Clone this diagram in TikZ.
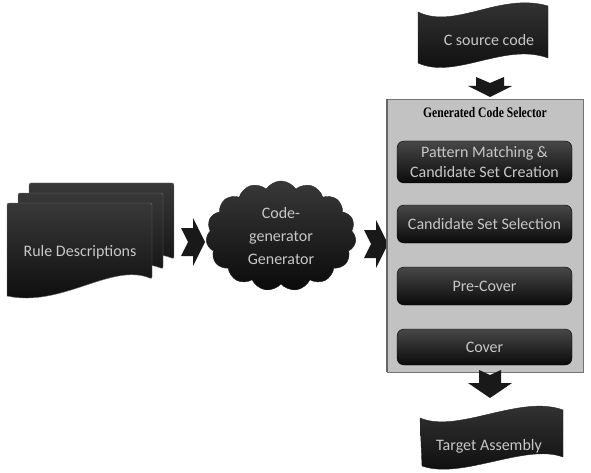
\documentclass[tikz,border=0pt]{standalone}
\usepackage{fontspec}
\setmainfont{Carlito}
\newfontfamily\titlefont[FakeStretch=0.8]{Liberation Serif}
\usetikzlibrary{shapes.symbols,calc}
\definecolor{darkfill}{gray}{0.1}
\definecolor{lighttext}{gray}{0.78}
\definecolor{panel}{gray}{0.76}
\tikzset{
  darkbox/.style={rounded corners=7pt, top color=black!72, bottom color=black!96,
    draw=black, text=lighttext, font=\fontsize{16}{20}\selectfont,
    minimum width=175pt, align=center, inner sep=2pt},
  darkshape/.style={top color=black!78, bottom color=black!96, draw=black!85},
  lbl/.style={text=lighttext, font=\fontsize{16}{23}\selectfont, align=center},
  arrowfill/.style={fill=darkfill},
  barrowR/.pic={\path[arrowfill] (-12,-14) -- (0,-14) -- (0,-24) -- (12,0) -- (0,24) -- (0,14) -- (-12,14) -- (-5,0) -- cycle;},
  barrowDa/.pic={\path[arrowfill] (-14,-10) -- (0,-4) -- (14,-10) -- (14,-1) -- (22,-1) -- (0,10) -- (-22,-1) -- (-14,-1) -- cycle;},
  barrowDb/.pic={\path[arrowfill] (-11,-14) -- (0,-9) -- (11,-14) -- (11,-1) -- (22,-1) -- (0,14) -- (-22,-1) -- (-11,-1) -- cycle;}
}
\begin{document}
\begin{tikzpicture}[x=1pt,y=-1pt]
\useasboundingbox[fill=white] (0,0) rectangle (591,473);
% Rule descriptions stack
\foreach \dx/\dy in {22/-20, 11/-10, 0/0}{
  \begin{scope}[shift={(\dx,\dy)}]
    \path[darkshape, draw=black!55, rounded corners=2pt] (7,203) -- (152,203) -- (152,279)
      [sharp corners] .. controls (112,262) and (62,308) .. (7,296) [rounded corners=2pt] -- cycle;
  \end{scope}
}
\node[lbl] (rd) at (80,252) {Rule Descriptions};
% arrow 1
\pic at (193,242) {barrowR};
% cloud
\node[cloud, cloud puffs=15, cloud puff arc=115, aspect=1.45, minimum width=150pt,
  minimum height=110pt, darkshape, lbl, inner sep=0pt] (cg) at (281,236)
  {Code-\\generator\\Generator};
% arrow 2
\pic at (376,244) {barrowR};
% selector panel
\node[fill=panel, draw=black!55, line width=0.8pt, minimum width=196pt, minimum height=273pt,
  inner sep=0pt] (sel) at (485,235.5) {};
\draw[black!60, line width=2pt] (sel.north west) -- (sel.south west);
\node[font=\titlefont\bfseries\fontsize{14.5}{16}\selectfont] (title) at (485,113) {Generated Code Selector};
\node[darkbox, minimum height=42pt] (pm) at (484.5,162) {Pattern Matching \&\\Candidate Set Creation};
\node[darkbox, minimum height=38pt] (cs) at (484.5,224) {Candidate Set Selection};
\node[darkbox, minimum height=38pt] (pc) at (484.5,286) {Pre-Cover};
\node[darkbox, minimum height=36pt] (cv) at (484.5,347) {Cover};
% C source code wave
\path[darkshape] (418,12) .. controls (455,30) and (500,-8) .. (548,6) -- (548,58)
  .. controls (505,42) and (455,80) .. (418,63) -- cycle;
\node[lbl] (src) at (489,40) {C source code};
\pic at (490,87) {barrowDa};
\pic at (490,384) {barrowDb};
% Target assembly wave
\path[darkshape] (420,418) .. controls (458,434) and (520,394) .. (563,410) -- (563,457)
  .. controls (525,443) and (462,480) .. (422,466) -- cycle;
\node[lbl] (tgt) at (489,446) {Target Assembly};
\end{tikzpicture}
\end{document}
